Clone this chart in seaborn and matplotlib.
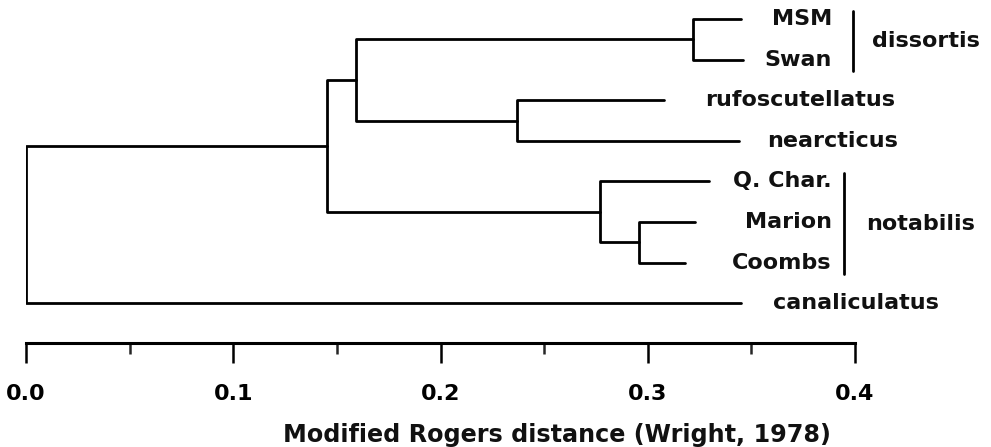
import matplotlib
matplotlib.use("Agg")
import matplotlib.pyplot as plt
import seaborn as sns
import pandas as pd
from matplotlib.ticker import MultipleLocator

# Leaves, top to bottom, with the distance where each branch ends
leaves = ["MSM", "Swan", "rufoscutellatus", "nearcticus",
          "Q. Char.", "Marion", "Coombs", "canaliculatus"]
leaf_dist = [0.345, 0.346, 0.308, 0.344, 0.3295, 0.323, 0.318, 0.345]

# Internal nodes: two children and the distance of the join
node_names = ["n1", "n2", "n3", "n4", "n5", "n6", "root"]
node_left = ["MSM", "rufoscutellatus", "Marion", "Q. Char.", "n1", "n5", "n6"]
node_right = ["Swan", "nearcticus", "Coombs", "n3", "n2", "n4", "canaliculatus"]
node_dist = [0.322, 0.237, 0.296, 0.277, 0.159, 0.145, 0.0]

# Species groups drawn with a bar
group_names = ["dissortis", "notabilis"]
group_first = ["MSM", "Q. Char."]
group_last = ["Swan", "Coombs"]

# positions of the node in the picture
xpos = dict(zip(leaves, leaf_dist))
ypos = {name: i for i, name in enumerate(leaves)}
for name, l, r, d in zip(node_names, node_left, node_right, node_dist):
    xpos[name] = d
    ypos[name] = (ypos[l] + ypos[r]) / 2

rows = []
for name, l, r in zip(node_names, node_left, node_right):
    pts = [(xpos[l], ypos[l]), (xpos[name], ypos[l]),
           (xpos[name], ypos[r]), (xpos[r], ypos[r])]
    for k, (x, y) in enumerate(pts):
        rows.append({"seg": name, "order": k, "x": x, "y": y})
segs = pd.DataFrame(rows)

sns.set_style("white")
plt.rcParams["font.family"] = ["DejaVu Sans"]
plt.rcParams["font.weight"] = "bold"

fig = plt.figure(figsize=(9.91, 4.47), dpi=100)
W, H = 991, 447
ax = fig.add_axes([26 / W, 1 - 343 / H, 829 / W, 343 / H])

sns.lineplot(data=segs, x="x", y="y", units="seg", estimator=None,
             sort=False, color="black", linewidth=2, ax=ax, legend=False)

ax.set_xlim(0, 0.4)
ax.set_ylim(7.98, -0.468)

# leaf labels
right_edge = 0.3888
left_start = {"rufoscutellatus": 0.3275, "nearcticus": 0.3575,
              "canaliculatus": 0.3604}
for name in leaves:
    if name in left_start:
        ax.text(left_start[name], ypos[name], name, ha="left", va="center",
                fontsize=16, fontweight="bold", color="#111111")
    else:
        ax.text(right_edge, ypos[name], name, ha="right", va="center",
                fontsize=16, fontweight="bold", color="#111111")

# group bars and names
bar_x = [0.399, 0.3946]
name_x = [0.4081, 0.4052]
for g, a, b, bx, nx in zip(group_names, group_first, group_last, bar_x, name_x):
    y0, y1 = ypos[a] - 0.2, ypos[b] + 0.27
    ax.plot([bx, bx], [y0, y1], color="black", linewidth=2, clip_on=False)
    ax.text(nx, (ypos[a] + ypos[b]) / 2 + 0.05, g, ha="left", va="center",
            fontsize=16, fontweight="bold", color="#111111")

for s in ["top", "left", "right"]:
    ax.spines[s].set_visible(False)
ax.spines["bottom"].set_linewidth(2.2)
ax.spines["bottom"].set_color("black")
ax.set_yticks([])
ax.xaxis.set_major_locator(MultipleLocator(0.1))
ax.xaxis.set_minor_locator(MultipleLocator(0.05))
ax.xaxis.set_major_formatter(lambda v, p: f"{v:.1f}")
ax.tick_params(axis="x", which="major", bottom=True, length=14.4, width=1.8,
               direction="out", pad=15, labelsize=16, colors="black")
ax.tick_params(axis="x", which="minor", bottom=True, length=8, width=1.8,
               direction="out")
for lab in ax.get_xticklabels():
    lab.set_fontweight("bold")

ax.set_ylabel("")
ax.set_xlabel("Modified Rogers distance (Wright, 1978)", fontsize=17.2,
              fontweight="bold", va="center", color="#111111")
ax.xaxis.set_label_coords((557 - 26) / 829, (343 - 435) / 343)

fig.savefig("out.png", dpi=100)
